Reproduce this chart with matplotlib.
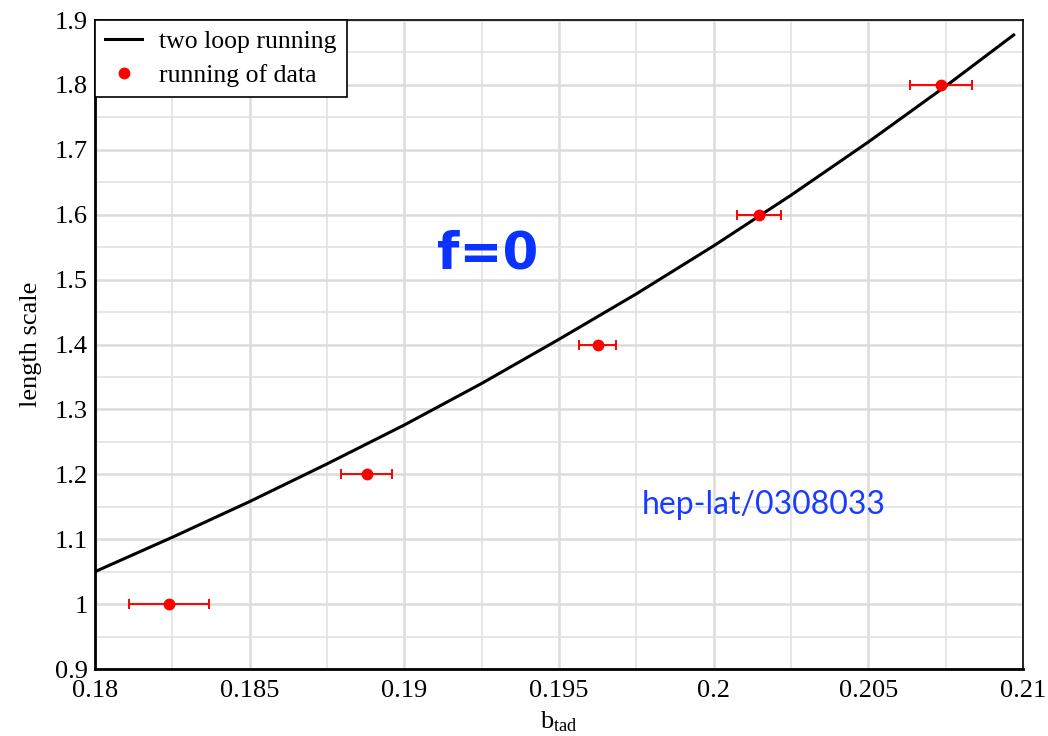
import numpy as np
import matplotlib
matplotlib.use("Agg")
import matplotlib.pyplot as plt
from matplotlib.lines import Line2D
from matplotlib.ticker import MultipleLocator

# two loop running curve
curve_b = [0.18, 0.1825, 0.185, 0.1875, 0.19, 0.1925, 0.195, 0.1975,
           0.2, 0.2025, 0.205, 0.2075, 0.2097]
curve_len = [1.050, 1.103, 1.158, 1.216, 1.276, 1.340, 1.408, 1.478,
             1.552, 1.630, 1.712, 1.798, 1.877]

# running of data
data_b = [0.18239, 0.18879, 0.19626, 0.20147, 0.20735]
data_len = [1.0, 1.2, 1.4, 1.6, 1.8]
data_berr = [0.0013, 0.00082, 0.0006, 0.0007, 0.001]

plt.rcParams['font.family'] = ['Liberation Serif', 'DejaVu Serif']
plt.rcParams['mathtext.fontset'] = 'stix'

fig = plt.figure(figsize=(10.48, 7.36), dpi=100)
ax = fig.add_axes([0.0906, 0.091, 0.8855, 0.8818])

line, = ax.plot(curve_b, curve_len, color='k', lw=2.2, zorder=3)
ax.errorbar(data_b, data_len, xerr=data_berr, fmt='o', color='#ff0000',
            ms=7.5, elinewidth=1.4, capsize=3.5, capthick=1.4, zorder=4)

ax.set_xlim(0.18, 0.21)
ax.set_ylim(0.9, 1.9)
ax.xaxis.set_minor_locator(MultipleLocator(0.0025))
ax.yaxis.set_minor_locator(MultipleLocator(0.05))
ax.set_xticks([0.18, 0.185, 0.19, 0.195, 0.2, 0.205, 0.21])
ax.set_xticklabels(['0.18', '0.185', '0.19', '0.195', '0.2', '0.205', '0.21'])
ax.set_yticks(np.round(np.arange(0.9, 1.91, 0.1), 1))
ax.set_yticklabels(['0.9', '1', '1.1', '1.2', '1.3', '1.4', '1.5', '1.6',
                    '1.7', '1.8', '1.9'])

ax.grid(which='major', color='#dcdcdc', lw=1.8, zorder=0)
ax.grid(which='minor', color='#e2e2e2', lw=1.2, zorder=0)
ax.set_axisbelow(True)
ax.tick_params(which='both', length=0, labelsize=19, pad=5)
ax.tick_params(axis='x', pad=8)

for s in ['left', 'bottom']:
    ax.spines[s].set_linewidth(2.0)
for s in ['top', 'right']:
    ax.spines[s].set_linewidth(1.2)

ax.set_xlabel(r'b$_{\mathregular{tad}}$', fontsize=19, labelpad=5)
ax.set_ylabel('length scale', fontsize=19, labelpad=9)

dot = Line2D([], [], marker='o', ls='none', color='#ff0000', ms=7.5)
leg = ax.legend([line, dot], ['two loop running', 'running of data'],
                loc='upper left', fontsize=18.5, frameon=True, fancybox=False,
                borderaxespad=0, handlelength=1.45, borderpad=0.4,
                labelspacing=0.42, handletextpad=0.65)
leg.get_frame().set_edgecolor('k')
leg.get_frame().set_linewidth(1.2)
leg.get_frame().set_alpha(1)

ax.text(0.1927, 1.539, 'f=0', fontsize=37, fontweight='bold',
        color='#0a33ff', ha='center', va='center',
        family=['DejaVu Sans'])
ax.text(0.20163, 1.1527, 'hep-lat/0308033', fontsize=23, color='#1a3cff',
        ha='center', va='center', family=['Lato', 'DejaVu Sans'])

plt.savefig('out.png', dpi=100)
